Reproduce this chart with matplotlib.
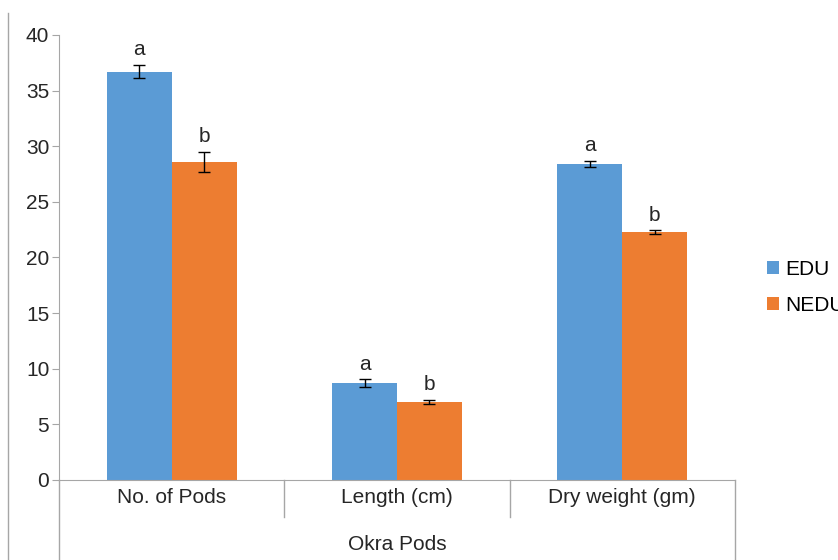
import numpy as np
import matplotlib.pyplot as plt
from matplotlib.lines import Line2D

plt.rcParams['font.family'] = ['Liberation Sans', 'DejaVu Sans']

categories = ["No. of Pods", "Length (cm)", "Dry weight (gm)"]
edu = [36.7, 8.7, 28.4]
nedu = [28.6, 7.0, 22.3]
edu_err = [0.6, 0.35, 0.3]
nedu_err = [0.9, 0.2, 0.15]
edu_letters = ["a", "a", "a"]
nedu_letters = ["b", "b", "b"]

blue = "#5B9BD5"
orange = "#ED7D31"
grey = "#A6A6A6"
fs = 15

fig = plt.figure(figsize=(8.38, 5.6), dpi=100)
ax = fig.add_axes([0.0704, 0.1429, 0.8066, 0.7946])

x = np.arange(len(categories))
w = 0.288

b1 = ax.bar(x - w/2, edu, w, color=blue, label="EDU", zorder=2)
b2 = ax.bar(x + w/2, nedu, w, color=orange, label="NEDU", zorder=2)
ax.errorbar(x - w/2, edu, yerr=edu_err, fmt="none", ecolor="black",
            elinewidth=1, capsize=4, capthick=1, zorder=3)
ax.errorbar(x + w/2, nedu, yerr=nedu_err, fmt="none", ecolor="black",
            elinewidth=1, capsize=4, capthick=1, zorder=3)

for i in range(len(categories)):
    ax.text(x[i] - w/2, edu[i] + edu_err[i] + 0.5, edu_letters[i],
            ha="center", va="bottom", fontsize=fs, color="#262626")
    ax.text(x[i] + w/2, nedu[i] + nedu_err[i] + 0.5, nedu_letters[i],
            ha="center", va="bottom", fontsize=fs, color="#262626")

ax.set_xlim(-0.5, 2.5)
ax.set_ylim(0, 40)
ax.set_yticks(np.arange(0, 41, 5))
ax.tick_params(axis="y", labelsize=fs, length=5, color=grey, labelcolor="#262626", pad=2)
ax.set_xticks(x)
ax.set_xticklabels(categories, fontsize=fs, color="#262626")
ax.tick_params(axis="x", length=0, pad=6)

for s in ["top", "right"]:
    ax.spines[s].set_visible(False)
ax.spines["left"].set_color(grey)
ax.spines["bottom"].set_color(grey)

# category separators below the axis
trans = ax.get_xaxis_transform()
for xb, ylow in [(-0.5, -0.2), (0.5, -0.083), (1.5, -0.083), (2.5, -0.2)]:
    ax.plot([xb, xb], [0, ylow], color=grey, lw=1, transform=trans, clip_on=False)

ax.text(1, -0.145, "Okra Pods", ha="center", va="center", fontsize=fs,
        color="#262626", transform=trans)

# outer left border line
fig.add_artist(Line2D([8/838, 8/838], [0, 1 - 13/560], color=grey, lw=1))

fig.legend(handles=[b1, b2], loc="center left", bbox_to_anchor=(0.905, 0.487),
           frameon=False, fontsize=fs, handlelength=0.6, handleheight=0.6,
           handletextpad=0.3, labelspacing=0.8, borderaxespad=0)

fig.savefig("out.png", dpi=100)
